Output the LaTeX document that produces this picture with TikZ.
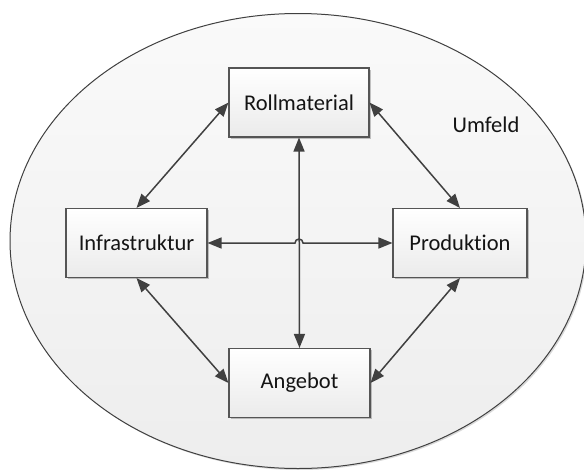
\documentclass[tikz,border=0pt]{standalone}
\usepackage{fontspec}
\setmainfont{Carlito}[Ligatures=NoCommon]
\usetikzlibrary{arrows.meta,shadows,calc}
\definecolor{linegray}{HTML}{404040}
\definecolor{boxline}{HTML}{555555}
\tikzset{
  block/.style={draw=boxline, line width=1.1pt, rectangle, inner sep=0pt,
    minimum height=69pt, top color=white, bottom color=white!92!black,
    drop shadow={shadow xshift=1.6pt, shadow yshift=-1.6pt, fill=black, opacity=0.22},
    font=\fontsize{22.5pt}{27pt}\selectfont, text=black!92},
  link/.style={draw=linegray, line width=1.5pt,
    {Triangle[length=14pt,width=11pt]}-{Triangle[length=14pt,width=11pt]}},
}
\begin{document}
\begin{tikzpicture}[x=1pt,y=-1pt]
  \useasboundingbox (0,0) rectangle (584,469);
  \fill[white] (0,0) rectangle (584,469);
  % surroundings
  \shade[top color=white!98!black, bottom color=white!93!black,
    drop shadow={shadow xshift=1.5pt, shadow yshift=-1.5pt, fill=black, opacity=0.15}]
    (298,241) ellipse [x radius=288pt, y radius=227.5pt];
  \draw[linegray, line width=1pt] (298,241) ellipse [x radius=288pt, y radius=227.5pt];
  \node[font=\fontsize{22.5pt}{27pt}\selectfont, text=black!92] (umf) at (486,125) {Umfeld};
  % the four areas
  \node[block, minimum width=140pt] (rm) at (299,102.5) {Rollmaterial};
  \node[block, minimum width=141pt] (inf) at (136.5,243) {Infrastruktur};
  \node[block, minimum width=134pt] (prod) at (460,243) {Produktion};
  \node[block, minimum width=141pt] (ang) at (299.5,383) {Angebot};
  % relations
  \draw[link] (inf.north) -- (rm.west);
  \draw[link] (rm.east) -- (prod.north);
  \draw[link] (inf.south) -- (ang.west);
  \draw[link] (prod.south) -- (ang.east);
  \draw[link] (rm.south) -- (ang.north);
  \coordinate (hop) at (rm.south |- inf.east);
  \draw[link] (inf.east) -- ([xshift=-4pt]hop) arc[start angle=180, end angle=0, radius=4pt] -- (prod.west);
\end{tikzpicture}
\end{document}
